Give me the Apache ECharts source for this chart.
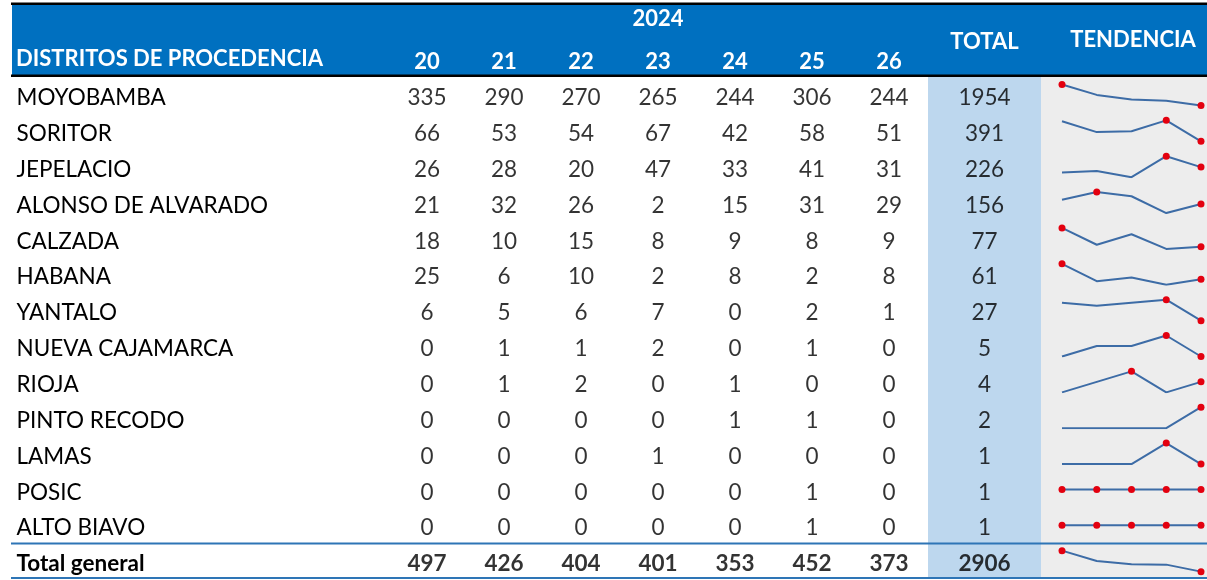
<!DOCTYPE html>
<html>
<head>
<meta charset="utf-8">
<script src="https://cdn.jsdelivr.net/npm/echarts@6/dist/echarts.min.js"></script>
<style>
  html, body { margin: 0; padding: 0; background: #fff; }
  #chart { width: 1207px; height: 580px; }
</style>
</head>
<body>
<div id="chart"></div>
<script>
// table data
const districts = ['MOYOBAMBA', 'SORITOR', 'JEPELACIO', 'ALONSO DE ALVARADO', 'CALZADA', 'HABANA',
  'YANTALO', 'NUEVA CAJAMARCA', 'RIOJA', 'PINTO RECODO', 'LAMAS', 'POSIC', 'ALTO BIAVO', 'Total general'];
const weeks = ['20', '21', '22', '23', '24', '25', '26'];

const w20 = [335, 66, 26, 21, 18, 25, 6, 0, 0, 0, 0, 0, 0, 497];
const w21 = [290, 53, 28, 32, 10, 6, 5, 1, 1, 0, 0, 0, 0, 426];
const w22 = [270, 54, 20, 26, 15, 10, 6, 1, 2, 0, 0, 0, 0, 404];
const w23 = [265, 67, 47, 2, 8, 2, 7, 2, 0, 0, 1, 0, 0, 401];
const w24 = [244, 42, 33, 15, 9, 8, 0, 0, 1, 1, 0, 0, 0, 353];
const w25 = [306, 58, 41, 31, 8, 2, 2, 1, 0, 1, 0, 1, 1, 452];
const w26 = [244, 51, 31, 29, 9, 8, 1, 0, 0, 0, 0, 0, 0, 373];
const totals = [1954, 391, 226, 156, 77, 61, 27, 5, 4, 2, 1, 1, 1, 2906];

const weekCols = [w20, w21, w22, w23, w24, w25, w26];
// sparkline shows the first five weeks
const sparkWeeks = 5;

const FONT = 'Lato';
const FS = 22.5;
const TOP = 80, ROWS_H = 502;
const rowH = ROWS_H / districts.length;
const last = districts.length - 1;

const chart = echarts.init(document.getElementById('chart'));

const grids = [
  { left: 388.5, width: 539, top: TOP, height: ROWS_H, outerBoundsMode: 'none', containLabel: false },
  { left: 928, width: 113, top: TOP, height: ROWS_H, outerBoundsMode: 'none', containLabel: false }
];
const headText = { color: '#fff', fontFamily: FONT, fontWeight: 'bold', fontSize: 22 };
const xAxes = [
  {
    gridIndex: 0, type: 'category', data: weeks, position: 'top',
    axisLine: { show: false }, axisTick: { show: false },
    axisLabel: Object.assign({ margin: 7 }, headText),
    name: '2024', nameLocation: 'middle', nameGap: 50,
    nameTextStyle: headText
  },
  {
    gridIndex: 1, type: 'category', data: ['TOTAL'], position: 'top',
    axisLine: { show: false }, axisTick: { show: false },
    axisLabel: Object.assign({ margin: 27 }, headText)
  }
];
const yAxes = [
  {
    gridIndex: 0, type: 'category', data: districts, inverse: true,
    axisLine: { show: false }, axisTick: { show: false },
    axisLabel: {
      align: 'left', margin: 372, fontFamily: FONT, fontSize: FS, color: '#000',
      formatter: (v, i) => i === last ? '{b|' + v + '}' : v,
      rich: { b: { fontFamily: FONT, fontSize: FS, fontWeight: 'bold', color: '#000' } }
    }
  },
  {
    gridIndex: 1, type: 'category', data: districts, inverse: true, show: false
  }
];

const cellData = [];
weekCols.forEach((col, c) => {
  col.forEach((v, r) => {
    cellData.push({ value: [c, r, v], label: { fontWeight: r === last ? 'bold' : 'normal' } });
  });
});
const totalData = totals.map((v, r) => ({ value: [0, r, v], label: { fontWeight: r === last ? 'bold' : 'normal' } }));

const labelStyle = {
  show: true, position: 'inside', color: '#000', fontFamily: FONT, fontSize: FS,
  formatter: p => p.value[2]
};

const series = [
  {
    type: 'scatter', xAxisIndex: 0, yAxisIndex: 0, data: cellData,
    symbolSize: 1, itemStyle: { color: 'rgba(0,0,0,0)' }, label: labelStyle, silent: true
  },
  {
    type: 'scatter', xAxisIndex: 1, yAxisIndex: 1, data: totalData,
    symbolSize: 1, itemStyle: { color: 'rgba(0,0,0,0)' }, label: labelStyle, silent: true
  }
];

// sparklines, one small grid per row
districts.forEach((name, r) => {
  const vals = weekCols.slice(0, sparkWeeks).map(col => col[r]);
  let lo = Math.min(...vals), hi = Math.max(...vals);
  if (lo === hi) { lo -= 1; hi += 1; }
  const gi = grids.length;
  grids.push({ left: 1062, right: 6, top: TOP + r * rowH + 4.5, height: 21, outerBoundsMode: 'none', containLabel: false });
  xAxes.push({ gridIndex: gi, type: 'category', boundaryGap: false, data: weeks.slice(0, sparkWeeks), show: false });
  yAxes.push({ gridIndex: gi, type: 'value', min: lo, max: hi, show: false });
  series.push({
    type: 'line', xAxisIndex: gi, yAxisIndex: gi, silent: true,
    lineStyle: { color: '#3d6ca6', width: 2 },
    symbol: 'circle', showAllSymbol: true,
    data: vals.map((v, i) => {
      const mark = v === Math.max(...vals) || i === vals.length - 1;
      return { value: v, symbolSize: mark ? 7 : 0, itemStyle: { color: '#e3000f' } };
    })
  });
});

chart.setOption({
  animation: false,
  graphic: [
    { type: 'rect', z: -10, shape: { x: 12, y: 4, width: 1195, height: 71 }, style: { fill: '#0070c0' } },
    { type: 'rect', z: -9, shape: { x: 11, y: 2.5, width: 1196, height: 2.5 }, style: { fill: '#000' } },
    { type: 'rect', z: -9, shape: { x: 11, y: 74.5, width: 1196, height: 2.5 }, style: { fill: '#000' } },
    { type: 'rect', z: -10, shape: { x: 928, y: 77, width: 113, height: 501 }, style: { fill: '#bdd7ee' } },
    { type: 'rect', z: -10, shape: { x: 1041, y: 77, width: 166, height: 501 }, style: { fill: '#ededed' } },
    { type: 'rect', z: -8, shape: { x: 11, y: 542.5, width: 1196, height: 2 }, style: { fill: '#2e75b6' } },
    { type: 'rect', z: -8, shape: { x: 11, y: 577, width: 1196, height: 2 }, style: { fill: '#2e75b6' } },
    {
      type: 'text', z: 10, x: 16, y: 59,
      style: { text: 'DISTRITOS DE PROCEDENCIA', fill: '#fff', font: 'bold 22px Lato', verticalAlign: 'middle' }
    },
    {
      type: 'text', z: 10, x: 1133, y: 40,
      style: { text: 'TENDENCIA', fill: '#fff', font: 'bold 22px Lato', align: 'center', verticalAlign: 'middle' }
    }
  ],
  grid: grids,
  xAxis: xAxes,
  yAxis: yAxes,
  series: series
});
</script>
</body>
</html>
